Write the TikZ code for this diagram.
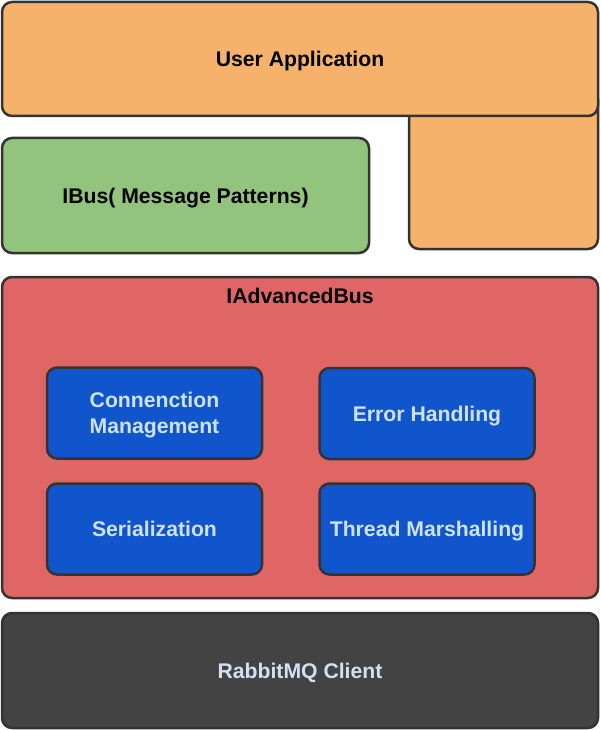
\documentclass[tikz,border=0pt]{standalone}
\usepackage{fontspec}
\setmainfont{Liberation Sans}
\definecolor{appcol}{HTML}{F6B26B}
\definecolor{buscol}{HTML}{93C47D}
\definecolor{advcol}{HTML}{E06666}
\definecolor{partcol}{HTML}{1155CC}
\definecolor{clientcol}{HTML}{434343}
\definecolor{edgecol}{HTML}{333333}
\definecolor{lighttext}{HTML}{CFE2F3}
\begin{document}
\begin{tikzpicture}[x=1pt,y=-1pt,
	caps/.style={font=\fontsize{21.2}{25.7}\selectfont\bfseries,text height=15.2pt,text depth=0pt},
	layer/.style={caps,draw=edgecol,line width=2.5pt,rounded corners=10pt,inner sep=0pt},
	part/.style={layer,fill=partcol,text=lighttext,minimum width=215pt,minimum height=91pt,
		align=center}]
	\useasboundingbox (0,0) rectangle (600,730);
	% application (L shaped: lower block sits behind the top bar)
	\node[layer,fill=appcol,minimum width=189pt,minimum height=160pt] (apptail) at (503.5,169) {};
	\node[layer,fill=appcol,minimum width=596pt,minimum height=114pt] (app) at (300,59) {User Application};
	\node[layer,fill=buscol,minimum width=367pt,minimum height=115pt] (ibus) at (185.5,195.5) {IBus( Message Patterns)};
	% advanced bus with its parts
	\node[layer,fill=advcol,minimum width=596pt,minimum height=321pt] (adv) at (300,437.5) {};
	\node[caps,inner sep=0pt] (advtitle) at (300,295.5) {IAdvancedBus};
	\node[part,text height=40.9pt] (conn) at (154.5,413) {Connenction\\Management};
	\node[part] (error)  at (427,413.5)   {Error Handling};
	\node[part] (serial) at (154.5,529)   {Serialization};
	\node[part] (thread) at (427,529)     {Thread Marshalling};
	% client
	\node[layer,fill=clientcol,text=lighttext,minimum width=596pt,minimum height=115pt] (client) at (300,670.5) {RabbitMQ Client};
\end{tikzpicture}
\end{document}
